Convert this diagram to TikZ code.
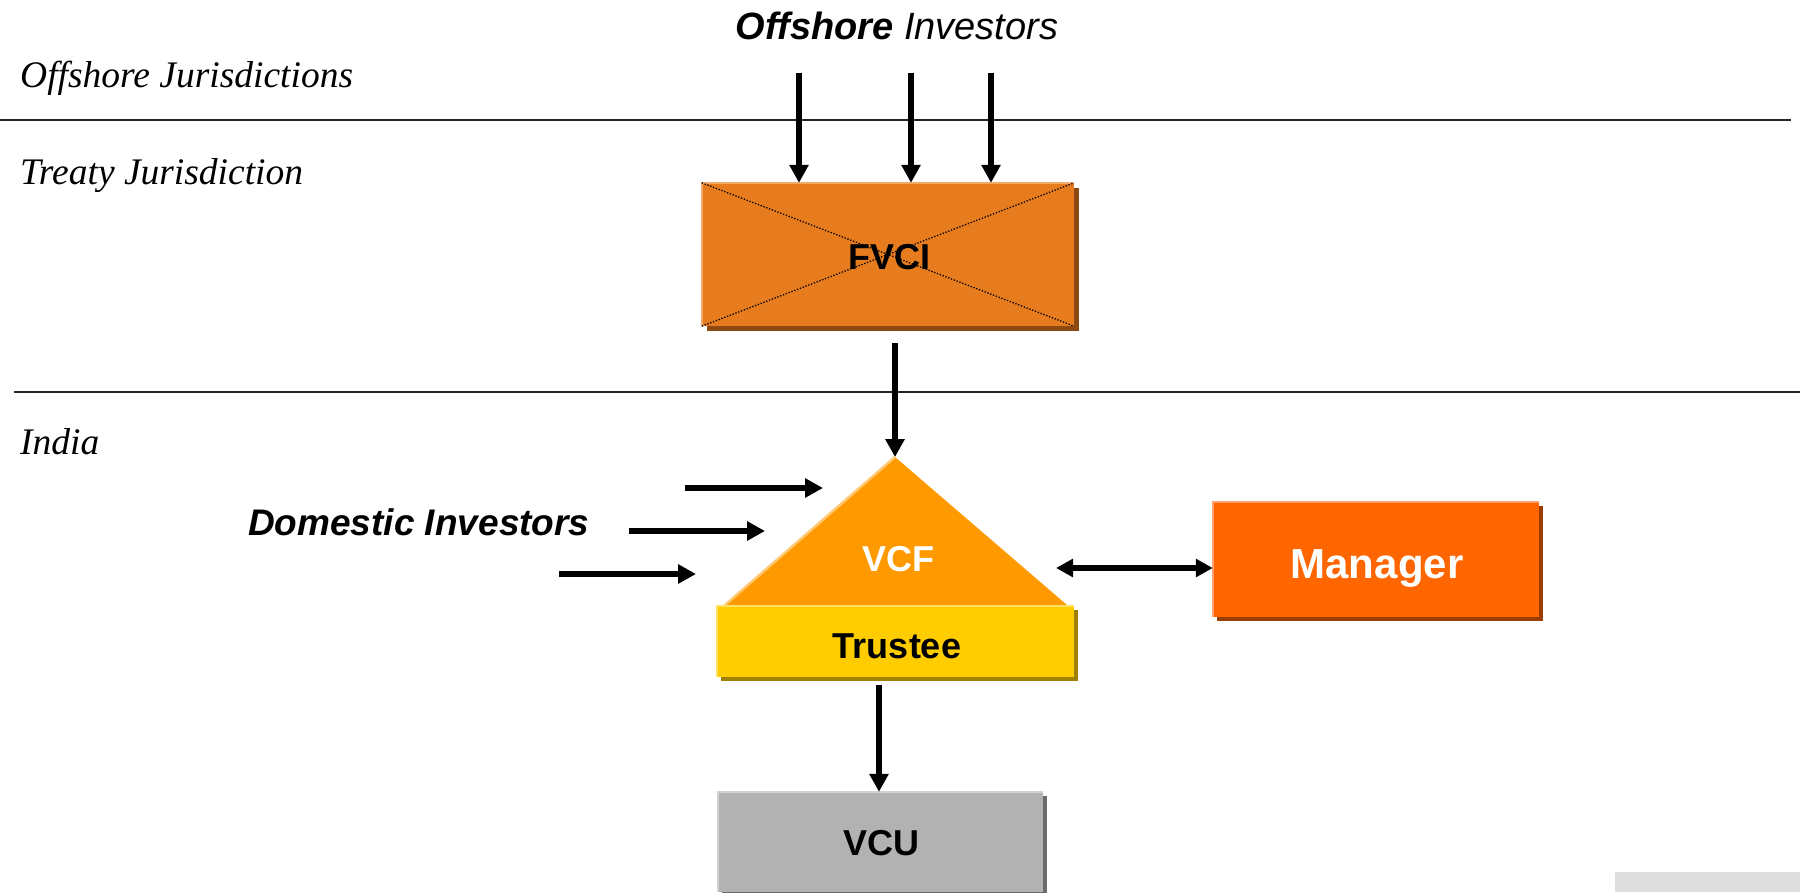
\documentclass[tikz,border=0pt]{standalone}
\usepackage{fontspec}
\setmainfont{Liberation Serif}
\setsansfont{Liberation Sans}
\usetikzlibrary{arrows.meta,shadows}
\definecolor{fvcifill}{HTML}{E67C1E}
\definecolor{fvcishadow}{HTML}{8C4A12}
\definecolor{fvcihl}{HTML}{F2A868}
\definecolor{vcffill}{HTML}{FF9900}
\definecolor{vcfhl}{HTML}{FFC870}
\definecolor{trfill}{HTML}{FFCC00}
\definecolor{trshadow}{HTML}{A08000}
\definecolor{trhl}{HTML}{FFE060}
\definecolor{mgfill}{HTML}{FF6600}
\definecolor{mgshadow}{HTML}{993D00}
\definecolor{mghl}{HTML}{FFA070}
\definecolor{vcufill}{HTML}{B2B2B2}
\definecolor{vcushadow}{HTML}{6B6B6B}
\definecolor{vcuhl}{HTML}{D2D2D2}
\definecolor{cornergray}{HTML}{DDDDDD}
\begin{document}
\begin{tikzpicture}[x=1pt,y=-1pt,
  rulestyle/.style={line width=2pt,color=black!85},
  lbl/.style={font=\rmfamily\itshape\fontsize{37.5}{40}\selectfont,anchor=base west,inner sep=0pt},
  boxtext/.style={font=\sffamily\bfseries\fontsize{36}{40}\selectfont,anchor=base,inner sep=0pt},
  plainbox/.style={inner sep=0pt,draw=none},
  arr/.style={line width=6.7pt,-{Triangle[length=18pt,width=18.5pt]}},
  darr/.style={line width=5.5pt,{Triangle[length=17pt,width=17.5pt]}-{Triangle[length=17pt,width=17.5pt]}},
  hl/.style={line width=2.5pt}
]
\path[use as bounding box] (0,0) rectangle (1800,892);
\fill[cornergray] (1615,872) rectangle (1800,892);

% jurisdiction rules
\draw[rulestyle] (0,120) -- (1791,120);
\draw[rulestyle] (14,392) -- (1800,392);

% labels
\node[lbl] (offj) at (20,87) {Offshore Jurisdictions};
\node[lbl] (treaty) at (20,184) {Treaty Jurisdiction};
\node[lbl] (india) at (20,454) {India};
\node[font=\sffamily\itshape\fontsize{38}{40}\selectfont,anchor=base,inner sep=0pt] (offinv) at (897,39) {\textbf{Offshore} Investors};
\node[font=\sffamily\bfseries\itshape\fontsize{37}{40}\selectfont,anchor=base west,inner sep=0pt] (dominv) at (248,535) {Domestic Investors};

% FVCI
\node[plainbox,fill=fvcifill,minimum width=372pt,minimum height=143pt,
  drop shadow={shadow xshift=5pt,shadow yshift=-5pt,fill=fvcishadow,opacity=1}] (fvci) at (888,254.5) {};
\draw[hl,fvcihl] (fvci.south west) -- (fvci.north west) -- (fvci.north east);
\node[boxtext] (fvcitext) at (889,269) {FVCI};
\draw[line width=1.3pt,dash pattern=on 1.3pt off 1.7pt] (fvci.north west) -- (fvci.south east);
\draw[line width=1.3pt,dash pattern=on 1.3pt off 1.7pt] (fvci.south west) -- (fvci.north east);

% VCF triangle
\coordinate (vcfl) at (725,605);
\coordinate (vcfapex) at (895,457);
\coordinate (vcfr) at (1067,605);
\fill[vcffill] (vcfl) -- (vcfapex) -- (vcfr) -- cycle;
\draw[hl,vcfhl] (vcfl) -- (vcfapex);
\node[boxtext,text=white] (vcf) at (898,571.5) {VCF};

% Trustee
\node[plainbox,fill=trfill,minimum width=357pt,minimum height=71pt,
  drop shadow={shadow xshift=4pt,shadow yshift=-4pt,fill=trshadow,opacity=1}] (trustee) at (895.5,641.5) {};
\draw[hl,trhl] (trustee.south west) -- (trustee.north west) -- (trustee.north east);
\node[boxtext] (trtext) at (897,658) {Trustee};

% Manager
\node[plainbox,fill=mgfill,minimum width=326pt,minimum height=115pt,
  drop shadow={shadow xshift=4pt,shadow yshift=-4pt,fill=mgshadow,opacity=1}] (mgr) at (1376,559.5) {};
\draw[hl,mghl] (mgr.south west) -- (mgr.north west) -- (mgr.north east);
\node[boxtext,text=white,font=\sffamily\bfseries\fontsize{42}{46}\selectfont] (mgrtext) at (1377,578) {Manager};

% VCU
\node[plainbox,fill=vcufill,minimum width=325pt,minimum height=100pt,
  drop shadow={shadow xshift=4pt,shadow yshift=-4pt,fill=vcushadow,opacity=1}] (vcu) at (880.5,842) {};
\draw[hl,vcuhl] (vcu.south west) -- (vcu.north west) -- (vcu.north east);
\node[boxtext] (vcutext) at (881,855) {VCU};

% offshore investor arrows
\coordinate (o1) at (799,73);
\coordinate (o2) at (911,73);
\coordinate (o3) at (991,73);
\draw[arr] (o1) -- (o1 |- fvci.north);
\draw[arr] (o2) -- (o2 |- fvci.north);
\draw[arr] (o3) -- (o3 |- fvci.north);

% FVCI to VCF
\draw[arr,shorten <=17pt] (fvci.south -| vcfapex) -- (vcfapex);

% domestic investor arrows
\coordinate (d1s) at (685,488); \coordinate (d1e) at (823,488);
\coordinate (d2s) at (629,531); \coordinate (d2e) at (765,531);
\coordinate (d3s) at (559,574); \coordinate (d3e) at (696,574);
\draw[arr] (d1s) -- (d1e);
\draw[arr] (d2s) -- (d2e);
\draw[arr] (d3s) -- (d3e);

% VCF <-> Manager
\coordinate (dl) at (1056,568);
\draw[darr] (dl) -- (dl -| mgr.west);

% Trustee to VCU
\coordinate (tv) at (879,685);
\draw[arr] (tv) -- (tv |- vcu.north);
\end{tikzpicture}
\end{document}
